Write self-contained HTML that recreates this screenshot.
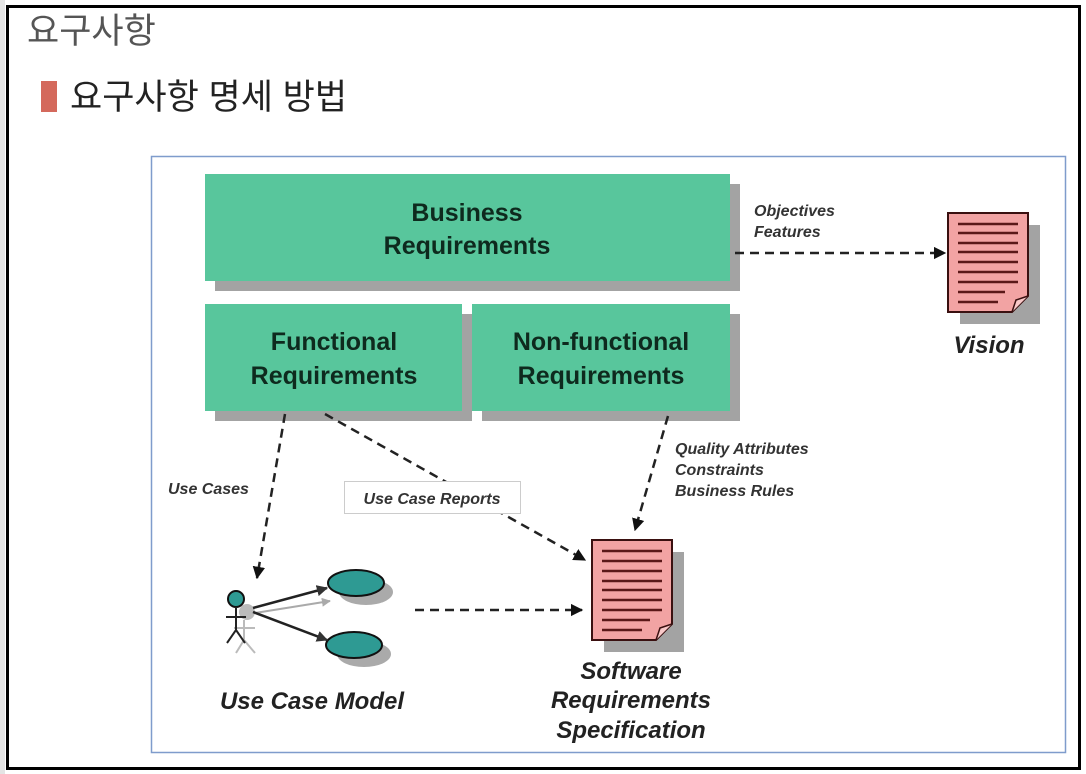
<!DOCTYPE html>
<html><head><meta charset="utf-8"><style>
html,body{margin:0;padding:0;background:#fff;}
body{width:1086px;height:774px;overflow:hidden;position:relative;}
</style></head><body>
<svg width="1086" height="774" viewBox="0 0 1086 774" xmlns="http://www.w3.org/2000/svg" style="position:absolute;left:0;top:0">
<defs>
<marker id="ah" viewBox="0 0 10 10" refX="9" refY="5" markerWidth="5" markerHeight="5" orient="auto"><path d="M0,0 L10,5 L0,10 z" fill="#111"/></marker>
<marker id="ah2" viewBox="0 0 10 10" refX="9" refY="5" markerWidth="4.5" markerHeight="4.5" orient="auto"><path d="M0,0 L10,5 L0,10 z" fill="#333"/></marker>
<marker id="ah3" viewBox="0 0 10 10" refX="9" refY="5" markerWidth="4.5" markerHeight="4.5" orient="auto"><path d="M0,0 L10,5 L0,10 z" fill="#aaa"/></marker>
</defs>
<rect x="0" y="0" width="5" height="774" fill="#e4e4e4"/>
<rect x="7.5" y="6.5" width="1072" height="762" fill="#fff" stroke="#000" stroke-width="3"/>
<text x="27" y="43" font-family="'Liberation Sans','Noto Sans CJK KR',sans-serif" font-size="35" fill="#555">요구사항</text>
<rect x="41" y="81" width="16" height="31" fill="#d4695c"/>
<text x="70" y="109" font-family="'Liberation Sans','Noto Sans CJK KR',sans-serif" font-size="35" fill="#222">요구사항 명세 방법</text>
<rect x="151.5" y="156.5" width="914" height="596" fill="#fff" stroke="#7f9ccc" stroke-width="1.5"/>

<g font-family="'Liberation Sans',sans-serif" font-weight="bold" font-size="25" fill="#0e2a1e" text-anchor="middle">
<rect x="215" y="184" width="525" height="107" fill="#a3a3a3"/>
<rect x="205" y="174" width="525" height="107" fill="#58c69c"/>
<text x="467" y="221">Business</text><text x="467" y="254">Requirements</text>
<rect x="215" y="314" width="257" height="107" fill="#a3a3a3"/>
<rect x="482" y="314" width="258" height="107" fill="#a3a3a3"/>
<rect x="205" y="304" width="257" height="107" fill="#58c69c"/>
<rect x="472" y="304" width="258" height="107" fill="#58c69c"/>
<text x="334" y="350">Functional</text><text x="334" y="384">Requirements</text>
<text x="601" y="350">Non-functional</text><text x="601" y="384">Requirements</text>
</g>

<g stroke="#222" stroke-width="2.5" stroke-dasharray="9,6" fill="none">
<line x1="735" y1="253" x2="945" y2="253" marker-end="url(#ah)"/>
<line x1="285" y1="414" x2="257" y2="578" marker-end="url(#ah)"/>
<line x1="325" y1="414" x2="585" y2="560" marker-end="url(#ah)"/>
<line x1="668" y1="416" x2="635" y2="530" marker-end="url(#ah)"/>
<line x1="415" y1="610" x2="582" y2="610" marker-end="url(#ah)"/>
</g>

<g font-family="'Liberation Sans',sans-serif" font-weight="bold" font-style="italic" font-size="16" fill="#333">
<text x="754" y="216">Objectives</text><text x="754" y="237">Features</text>
<text x="675" y="454">Quality Attributes</text><text x="675" y="475">Constraints</text><text x="675" y="496">Business Rules</text>
<text x="168" y="494">Use Cases</text>
</g>
<rect x="344.5" y="481.5" width="176" height="32" fill="#fff" stroke="#ccc"/>
<text x="432" y="504" text-anchor="middle" font-family="'Liberation Sans',sans-serif" font-weight="bold" font-style="italic" font-size="16" fill="#333">Use Case Reports</text>

<g>
<path d="M960,225 H1040 V324 H960 z" fill="#a3a3a3"/>
<path d="M948,213 H1028 V296 L1012,312 H948 z" fill="#f2a3a3" stroke="#3a1010" stroke-width="2"/>
<path d="M1012,312 L1016,300 L1028,296" fill="#f8c8c8" stroke="#3a1010" stroke-width="1.5"/>
<g stroke="#5a1818" stroke-width="2.5">
<line x1="958" y1="224" x2="1018" y2="224"/><line x1="958" y1="233" x2="1018" y2="233"/><line x1="958" y1="243" x2="1018" y2="243"/><line x1="958" y1="252" x2="1018" y2="252"/><line x1="958" y1="262" x2="1018" y2="262"/><line x1="958" y1="272" x2="1018" y2="272"/><line x1="958" y1="282" x2="1018" y2="282"/><line x1="958" y1="292" x2="1005" y2="292"/><line x1="958" y1="302" x2="998" y2="302"/>
</g>
</g>
<text x="989" y="353" text-anchor="middle" font-family="'Liberation Sans',sans-serif" font-weight="bold" font-style="italic" font-size="24" fill="#222">Vision</text>

<g>
<path d="M604,552 H684 V652 H604 z" fill="#a3a3a3"/>
<path d="M592,540 H672 V624 L656,640 H592 z" fill="#f2a3a3" stroke="#3a1010" stroke-width="2"/>
<path d="M656,640 L660,628 L672,624" fill="#f8c8c8" stroke="#3a1010" stroke-width="1.5"/>
<g stroke="#5a1818" stroke-width="2.5">
<line x1="602" y1="551" x2="662" y2="551"/><line x1="602" y1="561" x2="662" y2="561"/><line x1="602" y1="571" x2="662" y2="571"/><line x1="602" y1="581" x2="662" y2="581"/><line x1="602" y1="590" x2="662" y2="590"/><line x1="602" y1="600" x2="662" y2="600"/><line x1="602" y1="610" x2="662" y2="610"/><line x1="602" y1="620" x2="650" y2="620"/><line x1="602" y1="630" x2="642" y2="630"/>
</g>
</g>
<g font-family="'Liberation Sans',sans-serif" font-weight="bold" font-style="italic" font-size="24" fill="#222" text-anchor="middle">
<text x="631" y="679">Software</text><text x="631" y="708">Requirements</text><text x="631" y="738">Specification</text>
<text x="312" y="709">Use Case Model</text>
</g>

<ellipse cx="366" cy="592" rx="27" ry="13" fill="#aaa"/>
<ellipse cx="364" cy="654" rx="27" ry="13" fill="#aaa"/>
<circle cx="247" cy="612" r="8" fill="#bbb"/>
<g stroke="#bbb" stroke-width="2"><line x1="244" y1="620" x2="244" y2="640"/><line x1="234" y1="628" x2="255" y2="628"/><line x1="244" y1="640" x2="236" y2="653"/><line x1="244" y1="640" x2="255" y2="653"/></g>
<ellipse cx="356" cy="583" rx="28" ry="13" fill="#2e9a93" stroke="#111" stroke-width="2"/>
<ellipse cx="354" cy="645" rx="28" ry="13" fill="#2e9a93" stroke="#111" stroke-width="2"/>
<circle cx="236" cy="599" r="8" fill="#2e9a93" stroke="#111" stroke-width="2"/>
<g stroke="#222" stroke-width="2"><line x1="236" y1="607" x2="236" y2="630"/><line x1="226" y1="617" x2="246" y2="617"/><line x1="236" y1="630" x2="227" y2="643"/><line x1="236" y1="630" x2="245" y2="643"/></g>
<line x1="255" y1="613" x2="330" y2="601" stroke="#aaa" stroke-width="2" marker-end="url(#ah3)"/>
<line x1="253" y1="608" x2="327" y2="588" stroke="#222" stroke-width="2.5" marker-end="url(#ah2)"/>
<line x1="253" y1="612" x2="327" y2="640" stroke="#222" stroke-width="2.5" marker-end="url(#ah2)"/>
</svg>
</body></html>
